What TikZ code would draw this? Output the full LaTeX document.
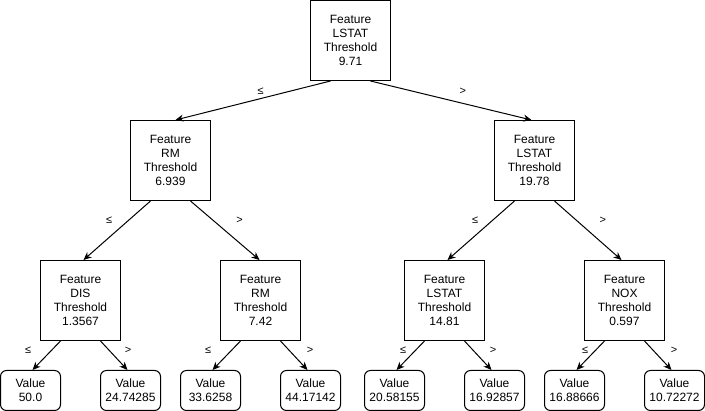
\documentclass[tikz,border=0pt]{standalone}
\usepackage{fontspec}
\setmainfont{Liberation Sans}
\usetikzlibrary{arrows.meta}
\begin{document}
\begin{tikzpicture}[x=1pt,y=-1pt,
  split/.style={draw, line width=1pt, minimum width=80pt, minimum height=80pt, inner sep=0pt, align=center, font=\fontsize{12}{14}\selectfont},
  leaf/.style={draw, rounded corners=6pt, line width=1pt, minimum width=60pt, minimum height=40pt, inner sep=0pt, align=center, font=\fontsize{12}{14}\selectfont},
  edge/.style={draw, line width=1pt, -{Stealth[length=8pt,width=7pt,inset=2.5pt]}},
  lbl/.style={font=\fontsize{11}{11}\selectfont, inner sep=0pt}]
\useasboundingbox (0,0) rectangle (705,411);
% split nodes
\node[split] (root) at (350.5,40.5) {Feature\\LSTAT\\Threshold\\9.71};
\node[split] (rm) at (170.5,160.5) {Feature\\RM\\Threshold\\6.939};
\node[split] (ls19) at (534.5,160.5) {Feature\\LSTAT\\Threshold\\19.78};
\node[split] (dis) at (80.5,300.5) {Feature\\DIS\\Threshold\\1.3567};
\node[split] (rm2) at (260.5,300.5) {Feature\\RM\\Threshold\\7.42};
\node[split] (ls14) at (444.5,300.5) {Feature\\LSTAT\\Threshold\\14.81};
\node[split] (nox) at (624.5,300.5) {Feature\\NOX\\Threshold\\0.597};
% leaves
\node[leaf] (l1) at (30.5,390.5) {Value\\50.0};
\node[leaf] (l2) at (130.5,390.5) {Value\\24.74285};
\node[leaf] (l3) at (210.5,390.5) {Value\\33.6258};
\node[leaf] (l4) at (310.5,390.5) {Value\\44.17142};
\node[leaf] (l5) at (394.5,390.5) {Value\\20.58155};
\node[leaf] (l6) at (494.5,390.5) {Value\\16.92857};
\node[leaf] (l7) at (574.5,390.5) {Value\\16.88666};
\node[leaf] (l8) at (674.5,390.5) {Value\\10.72272};
% edges level 1
\draw[edge] ([xshift=-20pt]root.south) -- node[lbl, pos=0.45, yshift=7pt] {≤} ([xshift=5pt]rm.north);
\draw[edge] ([xshift=20pt]root.south) -- node[lbl, pos=0.574, yshift=12pt] {>} ([xshift=-3pt]ls19.north);
% edges level 2
\draw[edge] ([xshift=-20pt]rm.south) -- node[lbl, pos=0.333, xshift=-19pt] {≤} ([xshift=3pt]dis.north);
\draw[edge] ([xshift=20pt]rm.south) -- node[lbl, pos=0.333, xshift=26pt] {>} ([xshift=-1pt]rm2.north);
\draw[edge] ([xshift=-20pt]ls19.south) -- node[lbl, pos=0.333, xshift=-17pt] {≤} ([xshift=3pt]ls14.north);
\draw[edge] ([xshift=20pt]ls19.south) -- node[lbl, pos=0.333, xshift=26pt] {>} ([xshift=-3pt]nox.north);
% edges level 3
\draw[edge] ([xshift=-20pt]dis.south) -- node[lbl, pos=0.333, xshift=-23pt] {≤} ([xshift=2pt]l1.north);
\draw[edge] ([xshift=20pt]dis.south) -- node[lbl, pos=0.333, xshift=18.5pt] {>} ([xshift=-3pt]l2.north);
\draw[edge] ([xshift=-20pt]rm2.south) -- node[lbl, pos=0.333, xshift=-23pt] {≤} ([xshift=2pt]l3.north);
\draw[edge] ([xshift=20pt]rm2.south) -- node[lbl, pos=0.333, xshift=20.5pt] {>} ([xshift=-3pt]l4.north);
\draw[edge] ([xshift=-20pt]ls14.south) -- node[lbl, pos=0.333, xshift=-12pt] {≤} ([xshift=2pt]l5.north);
\draw[edge] ([xshift=20pt]ls14.south) -- node[lbl, pos=0.333, xshift=19.5pt] {>} ([xshift=-3pt]l6.north);
\draw[edge] ([xshift=-20pt]nox.south) -- node[lbl, pos=0.333, xshift=-10pt] {≤} ([xshift=2pt]l7.north);
\draw[edge] ([xshift=20pt]nox.south) -- node[lbl, pos=0.333, xshift=20.5pt] {>} ([xshift=-3pt]l8.north);
\end{tikzpicture}
\end{document}
